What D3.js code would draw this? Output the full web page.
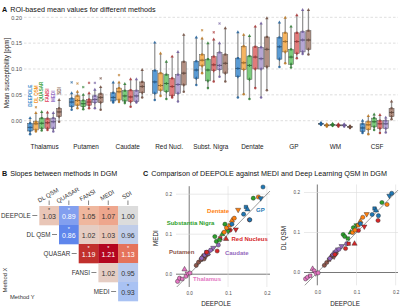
<!DOCTYPE html>
<html>
<head>
<meta charset="utf-8">
<script src="https://cdn.jsdelivr.net/npm/d3@7"></script>
<style>
  body { margin: 0; background: #fff; }
  svg { display: block; font-family: "Liberation Sans", Arial, sans-serif; }
</style>
</head>
<body>
<svg id="fig" width="400" height="307"></svg>
<script>
// ---- panel A data: box statistics per region, one value per method ----
const regions = ["Thalamus", "Putamen", "Caudate", "Red Nucl.", "Subst. Nigra", "Dentate", "GP", "WM", "CSF"];
const methods = ["DEEPOLE", "DL QSM", "QUASAR", "FANSI", "MEDI", "SDI"];

const boxLow = [
  [-0.026, -0.021, -0.019, -0.018, -0.021, -0.002],
  [0.021, 0.024, 0.022, 0.024, 0.024, 0.021],
  [0.035, 0.036, 0.034, 0.027, 0.035, 0.045],
  [0.040, 0.048, 0.042, 0.045, 0.037, 0.056],
  [0.069, 0.092, 0.063, 0.076, 0.085, 0.076],
  [0.045, 0.051, 0.042, 0.063, 0.045, 0.059],
  [0.104, 0.111, 0.103, 0.121, 0.129, 0.128],
  [-0.008, -0.011, -0.010, -0.011, -0.011, -0.014],
  [-0.024, -0.026, -0.018, -0.024, -0.023, 0.003]
];
const boxQ1 = [
  [-0.020, -0.018, -0.015, -0.015, -0.015, 0.008],
  [0.027, 0.030, 0.027, 0.030, 0.035, 0.035],
  [0.038, 0.040, 0.038, 0.037, 0.037, 0.054],
  [0.053, 0.059, 0.056, 0.048, 0.053, 0.069],
  [0.082, 0.106, 0.077, 0.097, 0.099, 0.092],
  [0.085, 0.099, 0.080, 0.100, 0.100, 0.104],
  [0.119, 0.133, 0.109, 0.130, 0.133, 0.138],
  [-0.007, -0.010, -0.009, -0.010, -0.010, -0.013],
  [-0.021, -0.017, -0.012, -0.015, -0.015, 0.008]
];
const boxMedian = [
  [-0.013, -0.006, -0.005, -0.004, -0.002, 0.017],
  [0.036, 0.039, 0.033, 0.036, 0.041, 0.045],
  [0.045, 0.056, 0.048, 0.046, 0.048, 0.066],
  [0.075, 0.068, 0.072, 0.066, 0.070, 0.092],
  [0.098, 0.117, 0.098, 0.108, 0.107, 0.111],
  [0.101, 0.112, 0.107, 0.123, 0.120, 0.138],
  [0.143, 0.153, 0.123, 0.153, 0.156, 0.156],
  [-0.006, -0.009, -0.008, -0.009, -0.009, -0.012],
  [-0.014, -0.008, -0.002, -0.006, -0.006, 0.016]
];
const boxQ3 = [
  [-0.005, -0.002, 0.005, 0.004, 0.005, 0.024],
  [0.043, 0.048, 0.039, 0.041, 0.048, 0.052],
  [0.054, 0.063, 0.058, 0.059, 0.058, 0.075],
  [0.097, 0.092, 0.089, 0.082, 0.089, 0.114],
  [0.115, 0.128, 0.119, 0.124, 0.132, 0.128],
  [0.121, 0.144, 0.125, 0.143, 0.142, 0.162],
  [0.161, 0.170, 0.138, 0.170, 0.172, 0.174],
  [-0.005, -0.008, -0.007, -0.008, -0.008, -0.011],
  [-0.006, -0.002, 0.005, 0.000, 0.000, 0.024]
];
const boxHigh = [
  [0.005, 0.015, 0.017, 0.016, 0.015, 0.040],
  [0.053, 0.056, 0.050, 0.053, 0.060, 0.065],
  [0.074, 0.074, 0.071, 0.080, 0.080, 0.098],
  [0.151, 0.130, 0.114, 0.124, 0.133, 0.166],
  [0.161, 0.159, 0.150, 0.157, 0.150, 0.179],
  [0.171, 0.166, 0.164, 0.182, 0.188, 0.198],
  [0.190, 0.199, 0.182, 0.204, 0.214, 0.214],
  [-0.004, -0.007, -0.006, -0.007, -0.007, -0.010],
  [0.000, 0.009, 0.012, 0.011, 0.006, 0.037]
];
const outliers = [
  ["Thalamus", "DL QSM", 0.026],
  ["Putamen", "DEEPOLE", 0.074], ["Putamen", "DL QSM", 0.072], ["Putamen", "QUASAR", 0.065],
  ["Putamen", "FANSI", 0.073], ["Putamen", "MEDI", 0.073], ["Putamen", "SDI", 0.082],
  ["Caudate", "DL QSM", 0.088],
  ["Subst. Nigra", "DL QSM", 0.175], ["Subst. Nigra", "FANSI", 0.171], ["Subst. Nigra", "MEDI", 0.188]
];
const aTicks = [0, 0.05, 0.10, 0.15, 0.20];

// ---- panel B data: slopes (upper triangle) ----
const slopeRows = ["DEEPOLE", "DL QSM", "QUASAR", "FANSI", "MEDI"];
const slopeCols = ["DL QSM", "QUASAR", "FANSI", "MEDI", "SDI"];
const slopeValues = [
  [1.03, 0.89, 1.05, 1.07, 1.00],
  [null, 0.86, 1.02, 1.03, 0.96],
  [null, null, 1.19, 1.21, 1.13],
  [null, null, null, 1.02, 0.95],
  [null, null, null, null, 0.93]
];
const slopeSig = [
  [1, 1, 1, 1, 0],
  [0, 1, 0, 0, 0],
  [0, 0, 1, 1, 1],
  [0, 0, 0, 0, 0],
  [0, 0, 0, 0, 1]
];

// ---- panel C data: per-subject DGM values ----
const dgmRegions = ["Thalamus", "Putamen", "Caudate", "Red Nucleus", "Substantia Nigra", "Dentate", "GP"];
const deepoleVals = [
  [-0.030, -0.025, -0.018, -0.012, -0.008, -0.004, 0.002],
  [0.018, 0.024, 0.030, 0.034, 0.038, 0.043, 0.048],
  [0.032, 0.040, 0.044, 0.048, 0.055, 0.062, 0.075],
  [0.045, 0.072, 0.080, 0.095, 0.105, 0.120, 0.155],
  [0.066, 0.070, 0.078, 0.085, 0.092, 0.100, 0.165],
  [0.090, 0.096, 0.104, 0.110, 0.116, 0.126, 0.178],
  [0.110, 0.140, 0.146, 0.150, 0.156, 0.184, 0.190]
];
const mediVals = [
  [-0.018, -0.010, -0.012, 0.012, -0.005, 0.002, 0.003],
  [0.022, 0.030, 0.036, 0.044, 0.038, 0.045, 0.050],
  [0.040, 0.048, 0.055, 0.052, 0.060, 0.066, 0.073],
  [0.055, 0.058, 0.090, 0.088, 0.110, 0.112, 0.136],
  [0.094, 0.082, 0.086, 0.100, 0.125, 0.108, 0.190],
  [0.105, 0.116, 0.122, 0.134, 0.140, 0.161, 0.193],
  [0.125, 0.150, 0.168, 0.162, 0.136, 0.190, 0.218]
];
const dlqsmVals = [
  [-0.016, -0.012, -0.008, 0.009, 0.004, -0.002, -0.001],
  [0.018, 0.025, 0.032, 0.038, 0.042, 0.040, 0.048],
  [0.035, 0.045, 0.050, 0.055, 0.058, 0.066, 0.072],
  [0.045, 0.060, 0.072, 0.072, 0.105, 0.115, 0.130],
  [0.095, 0.090, 0.085, 0.100, 0.112, 0.118, 0.175],
  [0.100, 0.106, 0.118, 0.128, 0.138, 0.146, 0.170],
  [0.122, 0.145, 0.160, 0.155, 0.142, 0.192, 0.198]
];
const cTicks = [0, 0.1, 0.2];

// ---- styles ----
const methodText = ["#3d8fd1", "#f2962a", "#3aa23a", "#e0405a", "#9470c4", "#8c6a5a"];
const boxFill = ["#5a9bd4", "#f5b461", "#7ccb7c", "#e07b7b", "#b5a6d3", "#b18f82"];
const dotFill = ["#1f5f9a", "#b8741f", "#2e7d32", "#a83232", "#6d5a9c", "#6e4c3e"];
const regionColors = ["#e377c2", "#8c564b", "#9467bd", "#d62728", "#2ca02c", "#ff7f0e", "#1f77b4"];
const boxDotShapes = [d3.symbolCircle, d3.symbolDiamond, d3.symbolCross, d3.symbolSquare, d3.symbolTriangle];
const subjShapes = ["circle", "circle", "square", "triangle", "circle", "triangleDown", "circle"];

const svg = d3.select("#fig");

// =============== A ===============
const title = (x, y, letter, txt) => {
  const t = svg.append("text").attr("x", x).attr("y", y).attr("font-size", 7.2).attr("fill", "#111");
  t.append("tspan").attr("font-weight", "bold").text(letter);
  t.append("tspan").attr("dx", 3).text(txt);
};
title(2, 11.5, "A", "ROI-based mean values for different methods");

const yA = d3.scaleLinear().domain([-0.03, 0.22]).range([136.2, 6.96]);
const xA = d3.scaleBand().domain(regions).range([23.8, 397.8]);
const xM = d3.scaleBand().domain(methods).range([3.8, 37.8]).paddingInner(0.14);

svg.append("g").selectAll("line").data(aTicks).join("line")
  .attr("x1", 24).attr("x2", 398)
  .attr("y1", d => yA(d)).attr("y2", d => yA(d))
  .attr("stroke", "#c8c8c8").attr("stroke-width", 0.6).attr("stroke-dasharray", "2.5,2");

const yAxisA = svg.append("g").attr("transform", "translate(24,0)")
  .call(d3.axisLeft(yA).tickValues(aTicks).tickFormat(d3.format(".2f")).tickSize(0).tickPadding(2));
yAxisA.select(".domain").remove();
yAxisA.selectAll("text").attr("font-size", 5.5).attr("fill", "#4d4d4d").attr("font-family", null);

const xAxisA = svg.append("g").attr("transform", "translate(0,144.5)")
  .call(d3.axisBottom(xA).tickSize(0).tickPadding(0));
xAxisA.select(".domain").remove();
xAxisA.selectAll("text").attr("font-size", 6.4).attr("fill", "#222").attr("font-family", null);

svg.append("text").attr("transform", "translate(9,73) rotate(-90)")
  .attr("text-anchor", "middle").attr("font-size", 6.3).attr("fill", "#222")
  .text("Mean susceptibility [ppm]");

const bw = xM.bandwidth();
regions.forEach((r, i) => {
  methods.forEach((m, j) => {
    const cx = xA(r) + xM(m) + bw / 2;
    const g = svg.append("g");
    g.append("line").attr("x1", cx).attr("x2", cx)
      .attr("y1", yA(boxLow[i][j])).attr("y2", yA(boxHigh[i][j]))
      .attr("stroke", "#8a8a8a").attr("stroke-width", 1.3).attr("opacity", 0.9);
    g.append("rect").attr("x", cx - bw / 2).attr("width", bw)
      .attr("y", yA(boxQ3[i][j])).attr("height", Math.max(0.8, yA(boxQ1[i][j]) - yA(boxQ3[i][j])))
      .attr("fill", boxFill[j]).attr("stroke", "#5a5a5a").attr("stroke-width", 0.5);
    g.append("line").attr("x1", cx - bw / 2).attr("x2", cx + bw / 2)
      .attr("y1", yA(boxMedian[i][j])).attr("y2", yA(boxMedian[i][j]))
      .attr("stroke", "#3a3a3a").attr("stroke-width", 0.7);
    const pts = [boxLow[i][j], boxQ1[i][j], boxMedian[i][j], boxQ3[i][j], boxHigh[i][j]];
    pts.forEach((v, k) => {
      g.append("path").attr("d", d3.symbol(boxDotShapes[k], 5)())
        .attr("transform", `translate(${cx},${yA(v)})`)
        .attr("fill", dotFill[j]).attr("opacity", 0.85);
    });
  });
});

outliers.forEach(([r, m, v]) => {
  const j = methods.indexOf(m);
  const cx = xA(r) + xM(m) + bw / 2;
  svg.append("path").attr("d", d3.symbol(d3.symbolCross, 4.5)())
    .attr("transform", `translate(${cx},${yA(v)}) rotate(45)`)
    .attr("fill", dotFill[j]).attr("opacity", 0.7);
});

// method legend (rotated labels above the Thalamus boxes)
const legendBase = [0.027, 0.034, 0.037, 0.036, 0.036, 0.050];
methods.forEach((m, j) => {
  const cx = xA("Thalamus") + xM(m) + bw / 2 + 1.7;
  svg.append("text").attr("transform", `translate(${cx},${yA(legendBase[j])}) rotate(-90)`)
    .attr("font-size", 4.6).attr("font-weight", "bold").attr("fill", methodText[j]).text(m);
});

// =============== B ===============
title(2, 176, "B", "Slopes between methods in DGM");

const hx = d3.scaleBand().domain(slopeCols).range([39.3, 137.8]);
const hy = d3.scaleBand().domain(slopeRows).range([206, 301]);
const heatColor = d3.scaleLinear()
  .domain([0.86, 0.93, 1.0, 1.05, 1.13, 1.21])
  .range(["#5f86ec", "#a9c2f3", "#dcdcdc", "#efb79e", "#e5735b", "#b4061f"])
  .interpolate(d3.interpolateLab);
const whiteText = v => v < 0.9 || v > 1.1;

slopeRows.forEach((rname, i) => {
  slopeCols.forEach((cname, j) => {
    const v = slopeValues[i][j];
    if (v === null) return;
    const x = hx(cname), y = hy(rname);
    svg.append("rect").attr("x", x).attr("y", y)
      .attr("width", hx.bandwidth() + 0.3).attr("height", hy.bandwidth() + 0.3)
      .attr("fill", heatColor(v));
    const tc = whiteText(v) ? "#fff" : "#333";
    svg.append("text").attr("x", x + hx.bandwidth() / 2).attr("y", y + hy.bandwidth() / 2 + 3.6)
      .attr("text-anchor", "middle").attr("font-size", 7).attr("fill", tc)
      .text(d3.format(".2f")(v));
    if (slopeSig[i][j]) {
      svg.append("text").attr("x", x + hx.bandwidth() / 2).attr("y", y + 6.4)
        .attr("text-anchor", "middle").attr("font-size", 5.5).attr("fill", tc).text("*");
    }
  });
  // row label beside the diagonal
  const left = hx(slopeCols[i]);
  const cy = hy(rname) + hy.bandwidth() / 2;
  svg.append("line").attr("x1", left - 7).attr("x2", left - 2).attr("y1", cy).attr("y2", cy)
    .attr("stroke", "#333").attr("stroke-width", 0.6);
  svg.append("text").attr("x", left - 8.5).attr("y", cy + 2.2).attr("text-anchor", "end")
    .attr("font-size", 6.3).attr("fill", "#333").text(rname);
});

slopeCols.forEach(c => {
  const cx = hx(c) + hx.bandwidth() / 2;
  svg.append("line").attr("x1", cx).attr("x2", cx).attr("y1", 200.5).attr("y2", 205)
    .attr("stroke", "#333").attr("stroke-width", 0.6);
  svg.append("text").attr("transform", `translate(${cx},197) rotate(-30)`)
    .attr("text-anchor", "middle").attr("font-size", 6).attr("fill", "#333").text(c);
});

svg.append("text").attr("transform", "translate(7,280) rotate(-90)")
  .attr("text-anchor", "middle").attr("font-size", 5.8).attr("fill", "#333").text("Method X");
svg.append("text").attr("x", 10).attr("y", 299)
  .attr("font-size", 5.8).attr("fill", "#333").text("Method Y");

// =============== C ===============
title(143, 176, "C", "Comparison of DEEPOLE against MEDI and Deep Learning QSM in DGM");

const symbolFor = s => s === "square" ? d3.symbolSquare
  : (s === "triangle" || s === "triangleDown") ? d3.symbolTriangle : d3.symbolCircle;

function scatter(opts) {
  const { sx, sy, yVals, yLabel, yTitleX, xTitleX, labels } = opts;
  const g = svg.append("g");
  const [x0, x1] = sx.range(), [y0, y1] = sy.range();
  cTicks.forEach(t => {
    const col = t === 0 ? "#555" : "#dcdcdc";
    const w = t === 0 ? 0.8 : 0.6;
    g.append("line").attr("x1", sx(t)).attr("x2", sx(t)).attr("y1", y0).attr("y2", y1)
      .attr("stroke", col).attr("stroke-width", w);
    g.append("line").attr("x1", x0).attr("x2", x1).attr("y1", sy(t)).attr("y2", sy(t))
      .attr("stroke", col).attr("stroke-width", w);
  });
  const lo = Math.max(sx.domain()[0], sy.domain()[0]), hi = Math.min(sx.domain()[1], sy.domain()[1]);
  g.append("line").attr("x1", sx(lo)).attr("y1", sy(lo)).attr("x2", sx(hi)).attr("y2", sy(hi))
    .attr("stroke", "#555").attr("stroke-width", 0.6);

  dgmRegions.forEach((r, i) => {
    deepoleVals[i].forEach((xv, k) => {
      const shape = subjShapes[k];
      const rot = shape === "triangleDown" ? " rotate(180)" : "";
      g.append("path").attr("d", d3.symbol(symbolFor(shape), shape === "circle" ? 14 : 12)())
        .attr("transform", `translate(${sx(xv)},${sy(yVals[i][k])})${rot}`)
        .attr("fill", regionColors[i]).attr("stroke", "#222").attr("stroke-width", 0.4);
    });
  });

  const ax = g.append("g").attr("transform", `translate(0,${y0 + 2})`)
    .call(d3.axisBottom(sx).tickValues(cTicks).tickFormat(d3.format(".1f")).tickSize(0).tickPadding(3));
  ax.select(".domain").remove();
  ax.selectAll("text").attr("font-size", 4.6).attr("fill", "#4d4d4d").attr("font-family", null);
  const ay = g.append("g").attr("transform", `translate(${x0 - 2},0)`)
    .call(d3.axisLeft(sy).tickValues(cTicks).tickFormat(d3.format(".1f")).tickSize(0).tickPadding(2));
  ay.select(".domain").remove();
  ay.selectAll("text").attr("font-size", 4.6).attr("fill", "#4d4d4d").attr("font-family", null);

  g.append("text").attr("x", xTitleX).attr("y", 306).attr("text-anchor", "middle")
    .attr("font-size", 6.3).attr("fill", "#222").text("DEEPOLE");
  g.append("text").attr("transform", `translate(${yTitleX},238) rotate(-90)`)
    .attr("text-anchor", "middle").attr("font-size", 6.3).attr("fill", "#222").text(yLabel);

  (labels || []).forEach(([name, lx, ly]) => {
    g.append("text").attr("x", sx(lx)).attr("y", sy(ly))
      .attr("font-size", 6).attr("font-weight", "bold")
      .attr("fill", regionColors[dgmRegions.indexOf(name)]).text(name);
  });
}

// label anchors in data units (DEEPOLE, MEDI)
const regionLabelPos = [
  ["Dentate", 0.046, 0.154], ["GP", 0.172, 0.156], ["Substantia Nigra", -0.058, 0.122],
  ["Red Nucleus", 0.109, 0.083], ["Putamen", -0.052, 0.051], ["Caudate", 0.092, 0.047],
  ["Thalamus", 0.010, -0.017]
];

scatter({
  sx: d3.scaleLinear().domain([-0.034, 0.208]).range([176, 270]),
  sy: d3.scaleLinear().domain([-0.032, 0.22]).range([287, 186.2]),
  yVals: mediVals, yLabel: "MEDI", yTitleX: 158, xTitleX: 216, labels: regionLabelPos
});
scatter({
  sx: d3.scaleLinear().domain([-0.034, 0.206]).range([304, 398]),
  sy: d3.scaleLinear().domain([-0.032, 0.22]).range([285.3, 184.5]),
  yVals: dlqsmVals, yLabel: "DL QSM", yTitleX: 286, xTitleX: 345
});
</script>
</body>
</html>
